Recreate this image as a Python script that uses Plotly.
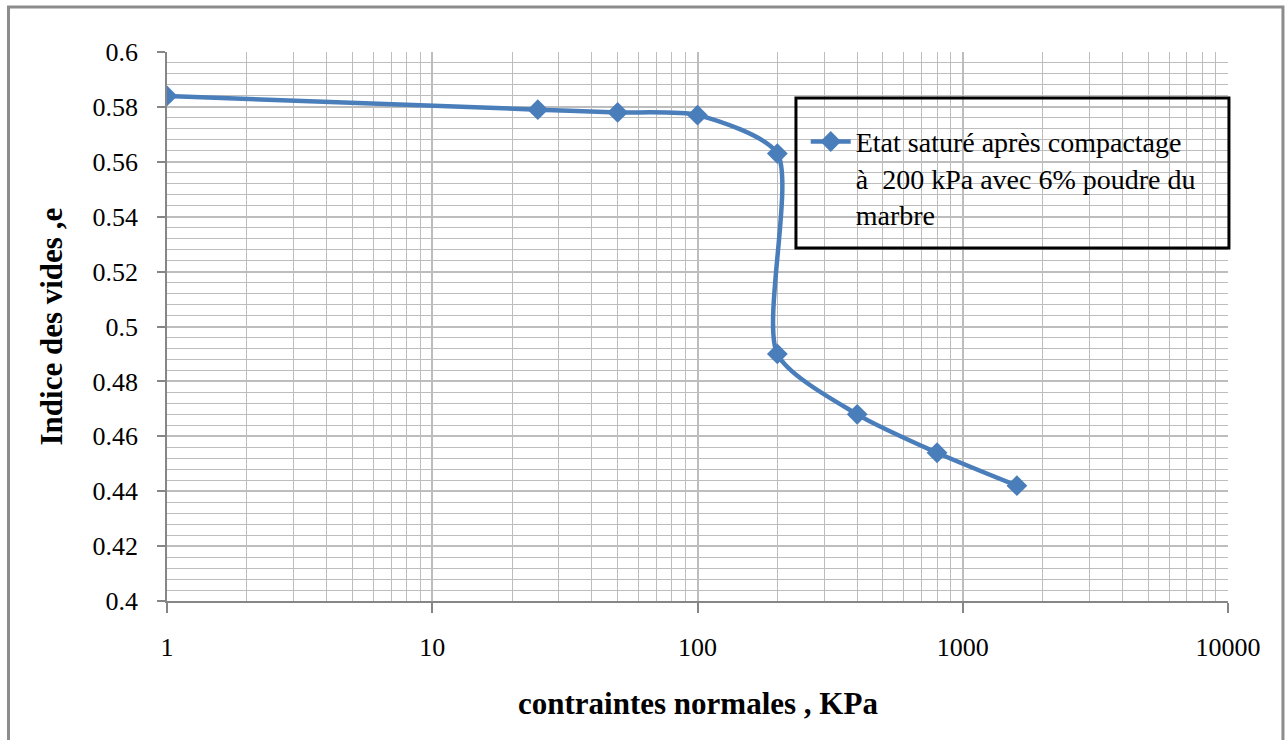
import plotly.graph_objects as go

# Data
contraintes = [1, 25, 50, 100, 200, 200, 400, 800, 1600]          # KPa
indice_vides = [0.584, 0.579, 0.578, 0.577, 0.563, 0.490, 0.468, 0.454, 0.442]
x_tick_vals = [1, 10, 100, 1000, 10000]
x_tick_text = ["1", "10", "100", "1000", "10000"]
x_minor_vals = [m * 10 ** k for k in range(4) for m in range(2, 10)]
serie_nom = "Etat saturé après compactage<br>à  200 kPa avec 6% poudre du<br>marbre"

BLUE = "#4A7EBB"
GRID = "#BDBDBD"
AXIS = "#868686"
FONT = "Liberation Serif"

fig = go.Figure()
fig.add_trace(go.Scatter(
    x=contraintes, y=indice_vides, mode="lines+markers", name=serie_nom,
    line=dict(color=BLUE, width=4.5, shape="spline", smoothing=0.7),
    marker=dict(symbol="diamond", size=16, color=BLUE),
))

fig.update_layout(
    width=1288, height=740,
    margin=dict(l=167, r=60, t=52, b=139),
    paper_bgcolor="white", plot_bgcolor="white",
    font=dict(family=FONT, color="black"),
    showlegend=True,
    legend=dict(
        x=0.602, y=0.882, xanchor="left", yanchor="top",
        bgcolor="rgba(0,0,0,0)", borderwidth=0,
        font=dict(family=FONT, size=28, color="black"),
        valign="top", itemwidth=40,
    ),
    xaxis=dict(
        type="log", range=[0, 4],
        tickvals=x_tick_vals, ticktext=x_tick_text,
        tickfont=dict(family=FONT, size=26, color="black"),
        ticks="outside", ticklen=10, tickcolor=AXIS, tickwidth=1.5,
        ticklabelstandoff=12,
        showline=True, linecolor=AXIS, linewidth=1.5,
        showgrid=True, gridcolor=GRID, gridwidth=1.5,
        minor=dict(tickvals=x_minor_vals, showgrid=True, gridcolor=GRID, gridwidth=1, ticks=""),
        zeroline=False,
    ),
    yaxis=dict(
        range=[0.4, 0.6], dtick=0.02, tick0=0.4,
        tickfont=dict(family=FONT, size=26, color="black"),
        ticks="outside", ticklen=8, tickcolor=AXIS, tickwidth=1.5,
        ticklabelstandoff=14,
        showline=True, linecolor=AXIS, linewidth=1.5,
        showgrid=True, gridcolor=GRID, gridwidth=1.5,
        minor=dict(dtick=0.004, tick0=0.4, showgrid=True, gridcolor=GRID, gridwidth=1, ticks=""),
        zeroline=False,
    ),
    annotations=[
        dict(text="<b>contraintes normales , KPa</b>", xref="paper", yref="paper",
             x=0.5, y=-0.1876, xanchor="center", yanchor="middle", showarrow=False,
             font=dict(family=FONT, size=31, color="black")),
        dict(text="<b>Indice des vides ,e</b>", xref="paper", yref="paper",
             x=-0.1084, y=0.5, xanchor="center", yanchor="middle", showarrow=False,
             textangle=-90, font=dict(family=FONT, size=31, color="black")),
    ],
    shapes=[
        # legend frame
        dict(type="rect", xref="paper", yref="paper", x0=0.5928, x1=1.0009, y0=0.643, y1=0.9162,
             line=dict(color="black", width=3), fillcolor="rgba(0,0,0,0)", layer="above"),
        # outer chart frame
        dict(type="rect", xref="paper", yref="paper", x0=-0.1494, x1=1.0518, y0=-0.262, y1=1.082,
             line=dict(color="#8C8C8C", width=3), fillcolor="rgba(0,0,0,0)", layer="above"),
    ],
)

fig.write_html("out.html")
